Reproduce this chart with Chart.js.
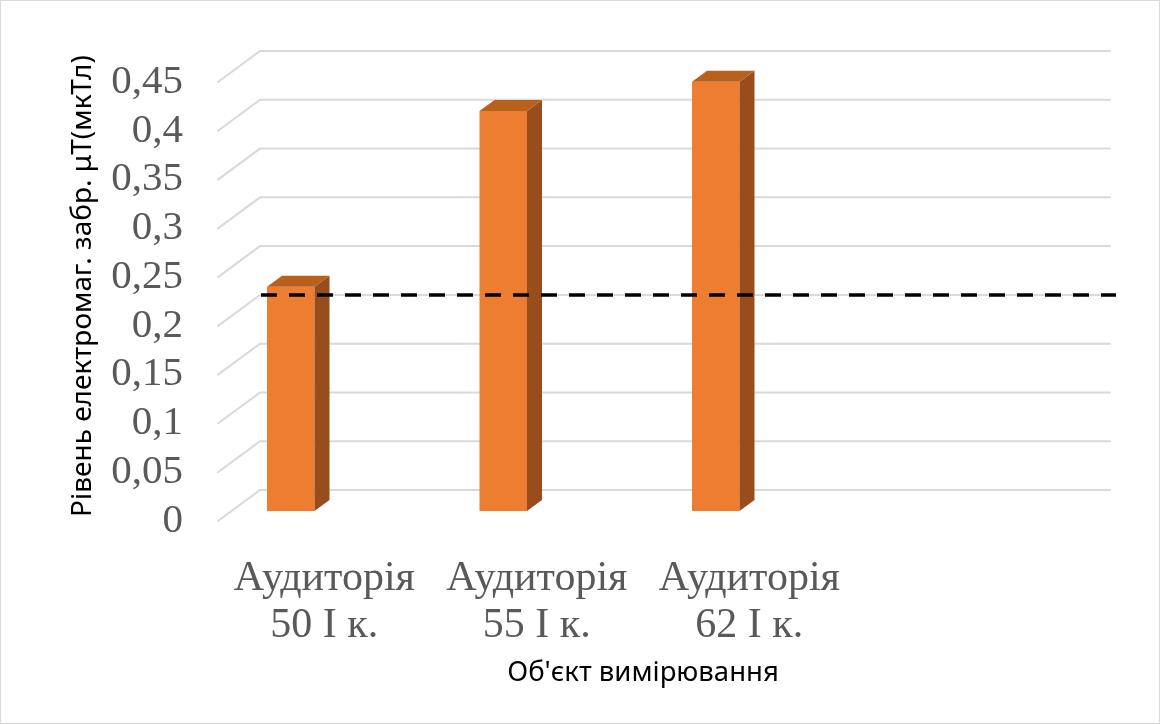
<!DOCTYPE html>
<html>
<head>
<meta charset="utf-8">
<script src="https://cdn.jsdelivr.net/npm/chart.js@4/dist/chart.umd.min.js"></script>
<style>
  html, body { margin: 0; padding: 0; background: #ffffff; }
  canvas { display: block; }
</style>
</head>
<body>
<canvas id="chart" width="1160" height="724"></canvas>
<script>
// Categories (the fourth slot is left empty, as in the plot)
const CATEGORIES = [
  ['Аудиторія', '50 І к.'],
  ['Аудиторія', '55 І к.'],
  ['Аудиторія', '62 І к.'],
  ''
];
// Measured field level, μT
const VALUES = [0.23, 0.41, 0.44, null];
// Value-axis ticks and their labels
const Y_TICKS = [0, 0.05, 0.1, 0.15, 0.2, 0.25, 0.3, 0.35, 0.4, 0.45];
const Y_TICK_LABELS = ['0', '0,05', '0,1', '0,15', '0,2', '0,25', '0,3', '0,35', '0,4', '0,45'];
// Permissible level shown as a dashed line on the back wall
const LIMIT_LEVEL = 0.2;

const Y_TITLE = 'Рівень електромаг. забр. μТ(мкТл)';
const X_TITLE = "Об'єкт вимірювання";

// Oblique 3D geometry (pixels)
const WALL_DEPTH = { dx: 42, dy: -31 };
const BAR_SHIFT = { dx: -33.5, dy: -10 };
const BAR_DEPTH = { dx: 15, dy: -11 };

const COLORS = {
  front: '#ED7D31',
  top: '#B8611F',
  side: '#9A4D1C',
  grid: '#D9D9D9',
  text: '#595959'
};

const threeD = {
  id: 'threeD',
  beforeDraw(chart) {
    const ctx = chart.ctx;
    ctx.save();
    ctx.fillStyle = '#ffffff';
    ctx.fillRect(0, 0, chart.width, chart.height);
    ctx.strokeStyle = COLORS.grid;
    ctx.lineWidth = 1;
    ctx.strokeRect(0.5, 0.5, chart.width - 1, chart.height - 1);
    ctx.restore();
  },
  beforeDatasetsDraw(chart) {
    const ctx = chart.ctx;
    const y = chart.scales.y;
    const area = chart.chartArea;
    ctx.save();
    ctx.strokeStyle = COLORS.grid;
    ctx.lineWidth = 2;
    ctx.lineCap = 'round';
    for (const v of Y_TICKS) {
      const yf = y.getPixelForValue(v);
      ctx.beginPath();
      ctx.moveTo(area.left, yf);
      ctx.lineTo(area.left + WALL_DEPTH.dx, yf + WALL_DEPTH.dy);
      ctx.lineTo(area.right + WALL_DEPTH.dx, yf + WALL_DEPTH.dy);
      ctx.stroke();
    }
    ctx.restore();
    // bars sit in the middle of the depth
    ctx.save();
    ctx.translate(BAR_SHIFT.dx, BAR_SHIFT.dy);
  },
  afterDatasetsDraw(chart) {
    const ctx = chart.ctx;
    const meta = chart.getDatasetMeta(0);
    meta.data.forEach((bar, i) => {
      if (VALUES[i] == null) return;
      const p = bar.getProps(['x', 'y', 'base', 'width'], true);
      const l = p.x - p.width / 2, r = p.x + p.width / 2;
      // side face
      ctx.fillStyle = COLORS.side;
      ctx.beginPath();
      ctx.moveTo(r, p.base);
      ctx.lineTo(r, p.y);
      ctx.lineTo(r + BAR_DEPTH.dx, p.y + BAR_DEPTH.dy);
      ctx.lineTo(r + BAR_DEPTH.dx, p.base + BAR_DEPTH.dy);
      ctx.closePath();
      ctx.fill();
      // top face
      ctx.fillStyle = COLORS.top;
      ctx.beginPath();
      ctx.moveTo(l, p.y);
      ctx.lineTo(r, p.y);
      ctx.lineTo(r + BAR_DEPTH.dx, p.y + BAR_DEPTH.dy);
      ctx.lineTo(l + BAR_DEPTH.dx, p.y + BAR_DEPTH.dy);
      ctx.closePath();
      ctx.fill();
    });
    ctx.restore();

    // dashed permissible-level line on the back wall
    const y = chart.scales.y;
    const area = chart.chartArea;
    const yl = y.getPixelForValue(LIMIT_LEVEL) + WALL_DEPTH.dy;
    ctx.save();
    ctx.strokeStyle = '#000000';
    ctx.lineWidth = 3.5;
    ctx.setLineDash([16, 12]);
    ctx.beginPath();
    ctx.moveTo(area.left + WALL_DEPTH.dx + 1, yl);
    ctx.lineTo(area.right + WALL_DEPTH.dx + 6, yl);
    ctx.stroke();
    ctx.restore();
  }
};

new Chart(document.getElementById('chart'), {
  type: 'bar',
  data: {
    labels: CATEGORIES,
    datasets: [{
      data: VALUES,
      backgroundColor: COLORS.front,
      borderWidth: 0,
      barPercentage: 0.2235,
      categoryPercentage: 1
    }]
  },
  options: {
    responsive: false,
    devicePixelRatio: 1,
    animation: false,
    events: [],
    layout: { padding: { left: 0, right: 92, top: 51, bottom: 0 } },
    plugins: {
      legend: { display: false },
      tooltip: { enabled: false },
      title: { display: false }
    },
    scales: {
      x: {
        grid: { display: false, drawTicks: false },
        border: { display: false },
        ticks: {
          color: COLORS.text,
          font: { family: '"Liberation Serif", "Times New Roman", serif', size: 42, lineHeight: 1.12 },
          padding: 34,
          maxRotation: 0,
          autoSkip: false
        },
        title: {
          display: true,
          text: X_TITLE,
          color: '#000000',
          font: { family: '"Noto Sans", sans-serif', size: 27.5 },
          padding: { top: 0, bottom: 34 }
        },
        afterFit(scale) { scale.height = 203; }
      },
      y: {
        min: 0,
        max: 0.4818,
        grid: { display: false, drawTicks: false },
        border: { display: false },
        afterBuildTicks(scale) {
          scale.ticks = Y_TICKS.map(v => ({ value: v }));
        },
        ticks: {
          color: COLORS.text,
          font: { family: '"Liberation Serif", "Times New Roman", serif', size: 41 },
          padding: 35,
          autoSkip: false,
          callback(value, index) { return Y_TICK_LABELS[index]; }
        },
        title: {
          display: true,
          text: Y_TITLE,
          color: '#000000',
          font: { family: '"Noto Sans", sans-serif', size: 28 },
          padding: { top: 66, bottom: 0 }
        },
        afterFit(scale) {
          scale.width = 218;
          scale.paddingTop = 0;
          scale.paddingBottom = 0;
        }
      }
    }
  },
  plugins: [threeD]
});
</script>
</body>
</html>
